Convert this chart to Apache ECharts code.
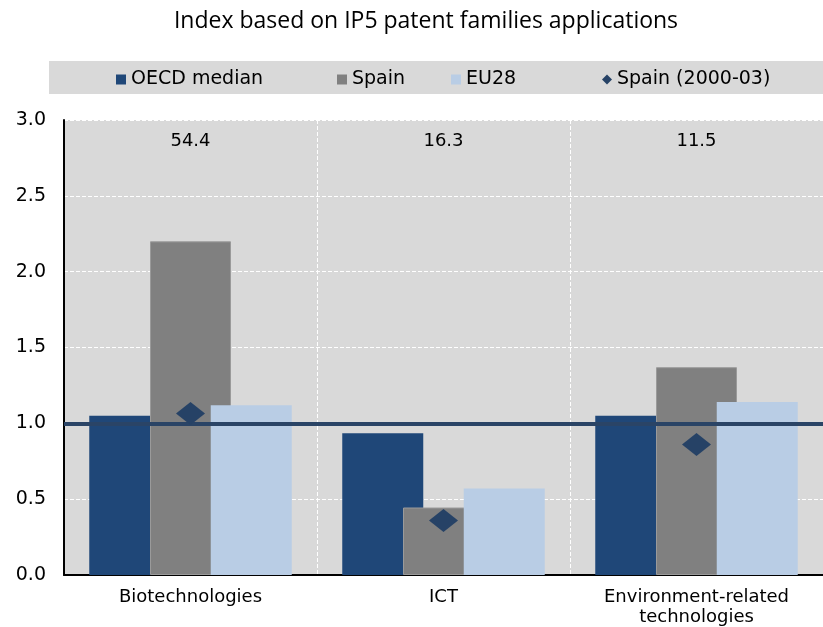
<!DOCTYPE html>
<html>
<head>
<meta charset="utf-8">
<script src="https://cdn.jsdelivr.net/npm/echarts@6/dist/echarts.min.js"></script>
<style>html,body{margin:0;padding:0;background:#fff}#c{width:823px;height:627px}</style>
</head>
<body>
<div id="c"></div>
<script>
var categories = ['Biotechnologies', 'ICT', 'Environment-related\ntechnologies'];
var topLabels = ['54.4', '16.3', '11.5'];
var oecdMedian = [1.05, 0.935, 1.05];
var spain = [2.20, 0.445, 1.37];
var eu28 = [1.12, 0.57, 1.14];
var spain2000 = [1.065, 0.36, 0.86];
var yTicks = [0, 0.5, 1, 1.5, 2, 2.5, 3];

var FONT = 'DejaVu Sans';
var chart = echarts.init(document.getElementById('c'));
function leg(name, left, icon) {
  return {
    data: [{name: name, icon: icon}],
    left: left, top: 70, itemWidth: 10, itemHeight: 10, padding: 0,
    itemStyle: {borderWidth: 0},
    textStyle: {fontFamily: FONT, fontSize: 19, color: '#000'},
    selectedMode: false
  };
}
chart.setOption({
  animation: false,
  graphic: [
    {type: 'rect', shape: {x: 49, y: 61, width: 774, height: 33}, style: {fill: '#d9d9d9'}, z: -1},
    {type: 'text', x: 426, y: 21, style: {text: 'Index based on IP5 patent families applications', fontFamily: 'Open Sans', fontSize: 23, fill: '#000', align: 'center', verticalAlign: 'middle'}}
  ],
  legend: [
    leg('OECD median', 116, 'rect'),
    leg('Spain', 337, 'rect'),
    leg('EU28', 451, 'rect'),
    leg('Spain (2000-03)', 602, 'diamond')
  ],
  grid: {left: 64, right: 0, top: 120, bottom: 45, show: true, backgroundColor: '#d9d9d9', borderWidth: 0},
  xAxis: [
    {
      type: 'category', data: categories, position: 'bottom',
      axisLine: {lineStyle: {color: '#000', width: 2}},
      axisTick: {show: false},
      splitLine: {show: true, lineStyle: {color: '#fff', type: 'dashed', width: 1}},
      axisLabel: {fontFamily: FONT, fontSize: 18, color: '#000', margin: 12, lineHeight: 20, interval: 0}
    },
    {
      type: 'category', data: topLabels, position: 'top',
      axisLine: {show: false}, axisTick: {show: false},
      axisLabel: {inside: true, fontFamily: FONT, fontSize: 18, color: '#000', margin: 12, interval: 0}
    }
  ],
  yAxis: {
    type: 'value', min: 0, max: 3, interval: 0.5,
    axisLine: {show: true, lineStyle: {color: '#000', width: 2}},
    axisTick: {show: false},
    splitLine: {show: true, lineStyle: {color: '#fff', type: 'dashed', width: 1}},
    axisLabel: {fontFamily: FONT, fontSize: 19, color: '#000', margin: 18,
      formatter: function (v) { return yTicks.indexOf(v) >= 0 ? v.toFixed(1) : ''; }}
  },
  series: [
    {name: 'OECD median', type: 'bar', data: oecdMedian, barWidth: 81, barGap: '-25%',
      itemStyle: {color: '#1f4778'}},
    {name: 'Spain', type: 'bar', data: spain, barWidth: 81, barGap: '-25%',
      itemStyle: {color: '#808080', borderColor: '#9a9a9a', borderWidth: 1}},
    {name: 'EU28', type: 'bar', data: eu28, barWidth: 81, barGap: '-25%',
      itemStyle: {color: '#b9cde5'}},
    {name: 'Spain (2000-03)', type: 'scatter', data: spain2000, symbol: 'diamond', symbolSize: [29, 23],
      itemStyle: {color: '#264266', opacity: 1}, z: 5,
      markLine: {silent: true, symbol: 'none', label: {show: false},
        lineStyle: {color: '#2a4466', width: 4, type: 'solid'},
        data: [{yAxis: 1}]}}
  ]
});
</script>
</body>
</html>
